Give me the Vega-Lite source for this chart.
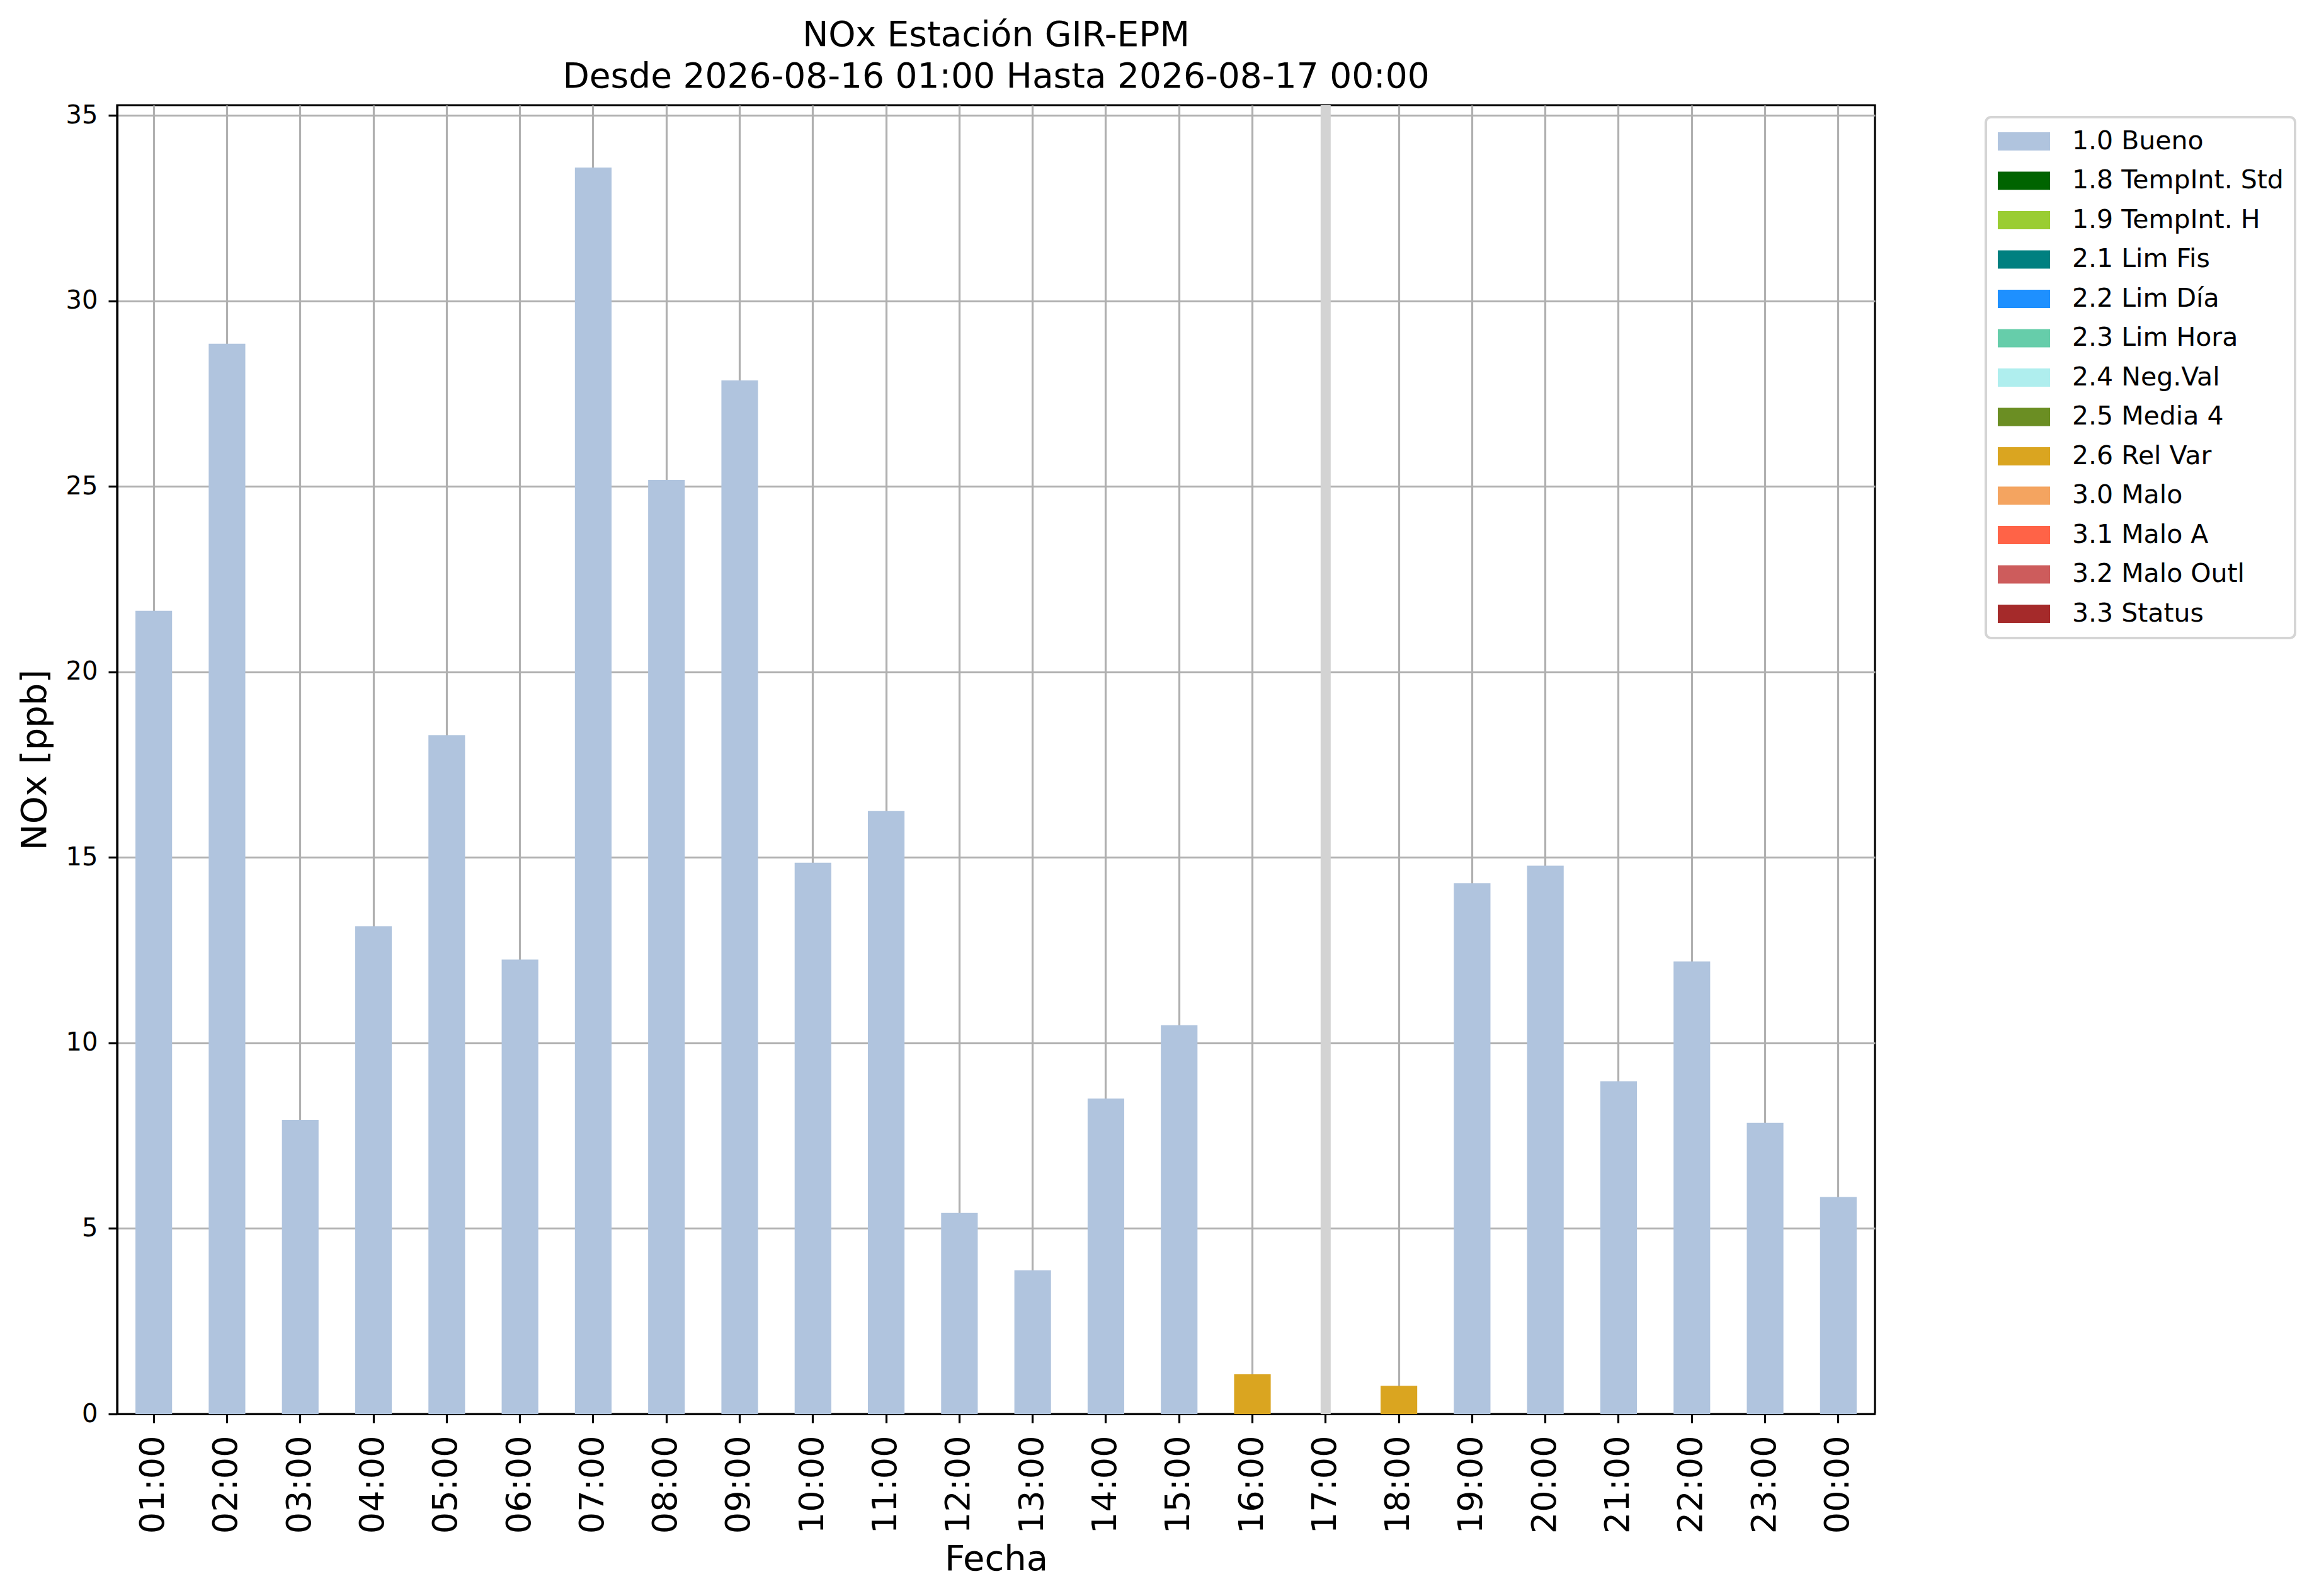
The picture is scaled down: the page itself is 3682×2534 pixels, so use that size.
{
  "$schema": "https://vega.github.io/schema/vega-lite/v6.json",
  "width": 2791,
  "height": 2078,
  "autosize": {"type": "none"},
  "padding": {"left": 186, "top": 167, "right": 705, "bottom": 289},
  "background": "white",
  "title": {
    "text": ["NOx Estación GIR-EPM", "Desde 2026-08-16 01:00 Hasta 2026-08-17 00:00"],
    "fontSize": 55,
    "fontWeight": "normal",
    "lineHeight": 66,
    "offset": 8,
    "anchor": "middle",
    "color": "black"
  },
  "data": {
    "values": [
      {"hora": "01:00", "nox": 21.65, "flag": "1.0 Bueno"},
      {"hora": "02:00", "nox": 28.85, "flag": "1.0 Bueno"},
      {"hora": "03:00", "nox": 7.93, "flag": "1.0 Bueno"},
      {"hora": "04:00", "nox": 13.15, "flag": "1.0 Bueno"},
      {"hora": "05:00", "nox": 18.3, "flag": "1.0 Bueno"},
      {"hora": "06:00", "nox": 12.25, "flag": "1.0 Bueno"},
      {"hora": "07:00", "nox": 33.6, "flag": "1.0 Bueno"},
      {"hora": "08:00", "nox": 25.18, "flag": "1.0 Bueno"},
      {"hora": "09:00", "nox": 27.86, "flag": "1.0 Bueno"},
      {"hora": "10:00", "nox": 14.86, "flag": "1.0 Bueno"},
      {"hora": "11:00", "nox": 16.25, "flag": "1.0 Bueno"},
      {"hora": "12:00", "nox": 5.42, "flag": "1.0 Bueno"},
      {"hora": "13:00", "nox": 3.87, "flag": "1.0 Bueno"},
      {"hora": "14:00", "nox": 8.5, "flag": "1.0 Bueno"},
      {"hora": "15:00", "nox": 10.48, "flag": "1.0 Bueno"},
      {"hora": "16:00", "nox": 1.07, "flag": "2.6 Rel Var"},
      {"hora": "17:00", "nox": null, "flag": null},
      {"hora": "18:00", "nox": 0.76, "flag": "2.6 Rel Var"},
      {"hora": "19:00", "nox": 14.31, "flag": "1.0 Bueno"},
      {"hora": "20:00", "nox": 14.78, "flag": "1.0 Bueno"},
      {"hora": "21:00", "nox": 8.97, "flag": "1.0 Bueno"},
      {"hora": "22:00", "nox": 12.2, "flag": "1.0 Bueno"},
      {"hora": "23:00", "nox": 7.85, "flag": "1.0 Bueno"},
      {"hora": "00:00", "nox": 5.85, "flag": "1.0 Bueno"}
    ]
  },
  "encoding": {
    "x": {
      "field": "hora",
      "type": "ordinal",
      "scale": {
        "domain": ["01:00", "02:00", "03:00", "04:00", "05:00", "06:00", "07:00", "08:00", "09:00", "10:00", "11:00", "12:00",
                   "13:00", "14:00", "15:00", "16:00", "17:00", "18:00", "19:00", "20:00", "21:00", "22:00", "23:00", "00:00"],
        "paddingInner": 0.5,
        "paddingOuter": 0.25
      },
      "axis": {
        "title": "Fecha",
        "titleFontSize": 56,
        "titlePadding": 14,
        "labelFontSize": 54,
        "labelAngle": 270,
        "labelPadding": 20,
        "grid": true,
        "bandPosition": 0.5
      }
    }
  },
  "layer": [
    {
      "transform": [{"filter": "datum.nox === null"}],
      "mark": {"type": "rule", "color": "#d3d3d3", "strokeWidth": 16},
      "encoding": {}
    },
    {
      "transform": [{"filter": "datum.nox !== null"}],
      "mark": {"type": "bar"},
      "encoding": {
        "y": {
          "field": "nox",
          "type": "quantitative",
          "scale": {"domain": [0, 35.28], "nice": false},
          "axis": {
            "title": "NOx [ppb]",
            "titleFontSize": 56,
            "titlePadding": 20,
            "labelFontSize": 40,
            "labelPadding": 17,
            "values": [0, 5, 10, 15, 20, 25, 30, 35],
            "grid": true
          }
        },
        "color": {
          "field": "flag",
          "type": "nominal",
          "scale": {
            "domain": ["1.0 Bueno", "1.8 TempInt. Std", "1.9 TempInt. H", "2.1 Lim Fis", "2.2 Lim Día", "2.3 Lim Hora", "2.4 Neg.Val",
                       "2.5 Media 4", "2.6 Rel Var", "3.0 Malo", "3.1 Malo A", "3.2 Malo Outl", "3.3 Status"],
            "range": ["#b0c4de", "#006400", "#9acd32", "#008080", "#1e90ff", "#66cdaa", "#afeeee",
                      "#6b8e23", "#daa520", "#f4a460", "#ff6347", "#cd5c5c", "#a52a2a"]
          },
          "legend": {
            "title": null,
            "orient": "none",
            "legendX": 2967,
            "legendY": 19,
            "symbolType": "M-2.862,-1H2.862V1H-2.862Z",
            "symbolSize": 841,
            "symbolOffset": 22,
            "symbolStrokeWidth": 0,
            "symbolOpacity": 1,
            "labelFontSize": 41,
            "labelOffset": 56,
            "labelLimit": 700,
            "rowPadding": 20.5,
            "padding": 18,
            "strokeColor": "#d5d5d5",
            "fillColor": "white",
            "cornerRadius": 8
          }
        }
      }
    }
  ],
  "config": {
    "font": "DejaVu Sans",
    "view": {"stroke": "black", "strokeWidth": 3.2},
    "axis": {
      "domainColor": "black",
      "domainWidth": 3.2,
      "tickColor": "black",
      "tickWidth": 3.2,
      "tickSize": 14,
      "labelColor": "black",
      "titleColor": "black",
      "titleFontWeight": "normal",
      "gridColor": "#b0b0b0",
      "gridWidth": 3.2,
      "gridOpacity": 1,
      "zindex": 1
    },
    "legend": {"strokeWidth": 4, "labelColor": "black"}
  }
}
